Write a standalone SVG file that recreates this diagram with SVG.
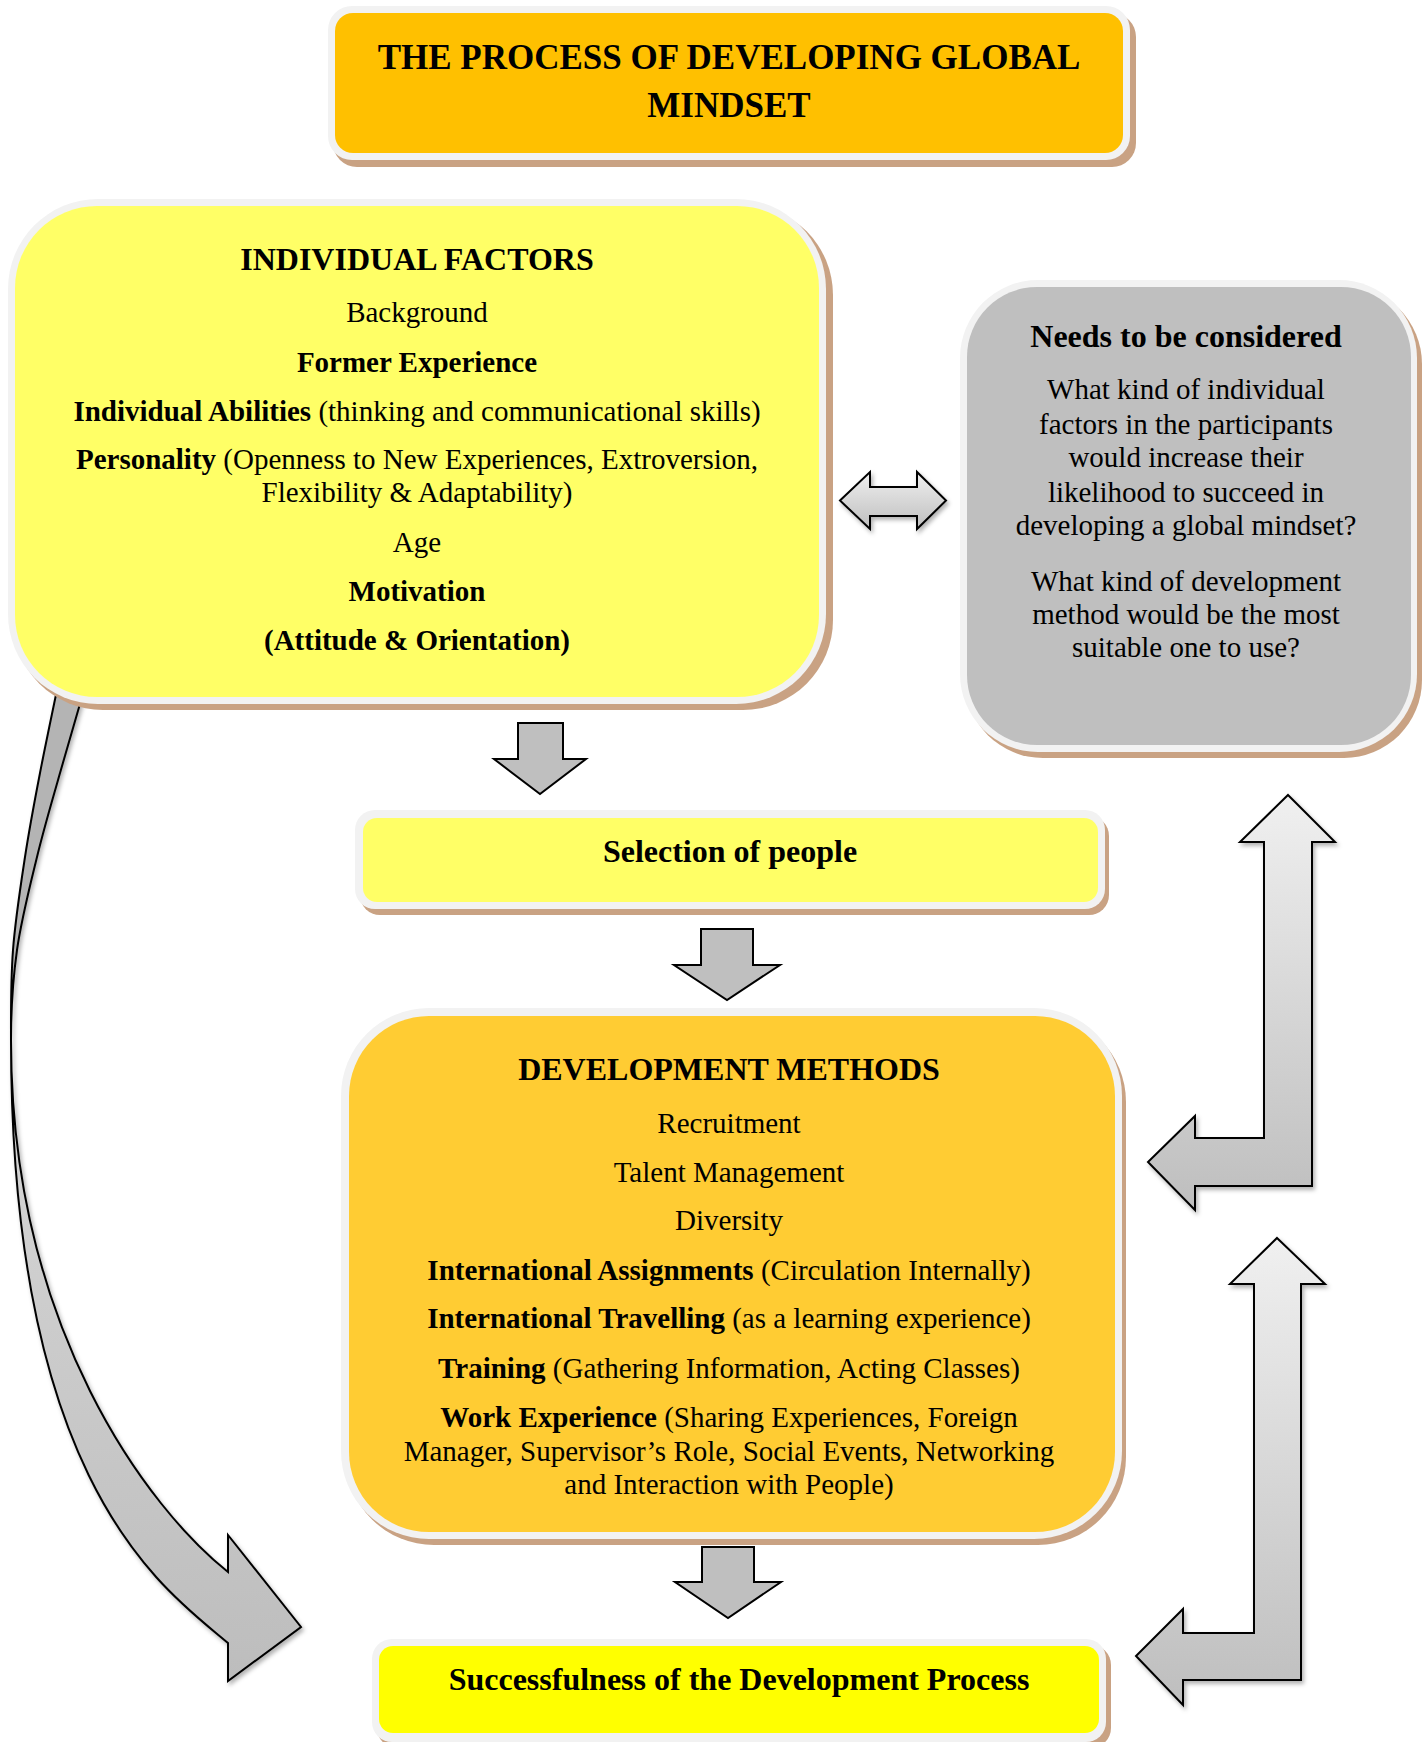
<svg xmlns="http://www.w3.org/2000/svg" width="1422" height="1742" viewBox="0 0 1422 1742">
<style>
.sh{fill:#C9A283}
.bd{fill:#F2F2F2}
.t{font-family:"Liberation Serif","Times New Roman",serif;fill:#000;text-anchor:middle}
.ti{font-size:35px;font-weight:bold}
.h{font-size:32px;font-weight:bold}
.b{font-size:29px}
.bb{font-weight:bold}
.ar{stroke:#000;stroke-width:2;stroke-linejoin:miter}
.flat{fill:#BFBFBF}
.grad{fill:url(#gg)}
</style>
<defs>
<linearGradient id="gg" x1="0" y1="0" x2="0" y2="1">
<stop offset="0" stop-color="#F0F0F0"/>
<stop offset="1" stop-color="#BEBEBE"/>
</linearGradient>
<linearGradient id="cg" x1="0" y1="1040" x2="0" y2="1680" gradientUnits="userSpaceOnUse">
<stop offset="0" stop-color="#D8D8D8"/>
<stop offset="1" stop-color="#BDBDBD"/>
</linearGradient>
<filter id="ds" x="-20%" y="-20%" width="140%" height="140%">
<feDropShadow dx="2" dy="3" stdDeviation="2" flood-color="#000" flood-opacity="0.3"/>
</filter>
</defs>

<g id="connectors">
<g id="curved-arrow" filter="url(#ds)">
<path class="ar" fill="#B4B4B4" d="M 59 680 C 52.7 711 45.7 743.5 40 773 C 34.3 802.5 29.5 827.5 25 857 C 20.5 886.5 15.3 919.5 13 950 C 10.7 980.5 11 1010 11 1040 C 11 1010 12.7 980.5 17 950 C 21.3 919.5 29.8 886.5 37 857 C 44.2 827.5 51.7 802.5 60 773 C 68.3 743.5 78 711 87 680 Z"/>
<path class="ar" fill="url(#cg)" d="M 11 1040 C 11 1490 167 1591 228 1643 L 228 1681 L 301 1627 L 228 1535 L 228 1572 C 150 1510 11 1330 11 1040 Z"/>
</g>
<path id="arrow-down-1" class="ar flat" d="M 518 723 L 563 723 L 563 759 L 586 759 L 540 794 L 494 759 L 518 759 Z"/>
<path id="arrow-down-2" class="ar flat" d="M 701 929 L 753 929 L 753 965 L 780 965 L 727 1000 L 674 965 L 701 965 Z"/>
<path id="arrow-down-3" class="ar flat" d="M 702 1547 L 754 1547 L 754 1582 L 781 1582 L 728 1618 L 675 1582 L 702 1582 Z"/>
<path id="arrow-double" class="ar grad" filter="url(#ds)" d="M 840 500.5 L 870 472 L 870 487 L 917 487 L 917 472 L 946 500.5 L 917 529 L 917 516 L 870 516 L 870 529 Z"/>
<path id="arrow-bent-upper" class="ar grad" filter="url(#ds)" d="M 1288 795 L 1335 842 L 1312 842 L 1312 1186 L 1195 1186 L 1195 1210 L 1148 1162 L 1195 1116 L 1195 1138 L 1264 1138 L 1264 842 L 1240 842 Z"/>
<path id="arrow-bent-lower" class="ar grad" filter="url(#ds)" d="M 1277 1238 L 1325 1284 L 1301 1284 L 1301 1680 L 1183 1680 L 1183 1705 L 1136 1656 L 1183 1609 L 1183 1633 L 1254 1633 L 1254 1284 L 1230 1284 Z"/>
</g>

<g id="title">
<rect class="sh" x="333" y="13" width="803" height="154" rx="24"/>
<rect class="bd" x="328" y="6" width="802" height="154" rx="24"/>
<rect x="335" y="13" width="788" height="140" rx="18" fill="#FFC000"/>
<text class="t ti" x="729" y="69">THE PROCESS OF DEVELOPING GLOBAL</text>
<text class="t ti" x="729" y="117">MINDSET</text>
</g>

<g id="individual-factors">
<rect class="sh" x="13" y="205" width="820" height="505" rx="90"/>
<rect class="bd" x="8" y="199" width="818" height="505" rx="90"/>
<rect x="15" y="206" width="804" height="491" rx="82" fill="#FFFF66"/>
<text class="t h" x="417" y="270">INDIVIDUAL FACTORS</text>
<text class="t b" x="417" y="322">Background</text>
<text class="t b bb" x="417" y="372">Former Experience</text>
<text class="t b" x="417" y="421"><tspan class="bb">Individual Abilities</tspan> (thinking and communicational skills)</text>
<text class="t b" x="417" y="469"><tspan class="bb">Personality</tspan> (Openness to New Experiences, Extroversion,</text>
<text class="t b" x="417" y="502">Flexibility &amp; Adaptability)</text>
<text class="t b" x="417" y="552">Age</text>
<text class="t b bb" x="417" y="601">Motivation</text>
<text class="t b bb" x="417" y="650">(Attitude &amp; Orientation)</text>
</g>

<g id="needs-considered">
<rect class="sh" x="965" y="286" width="457" height="472" rx="78"/>
<rect class="bd" x="960" y="280" width="457" height="472" rx="78"/>
<rect x="967" y="287" width="444" height="458" rx="70" fill="#BFBFBF"/>
<text class="t h" x="1186" y="347">Needs to be considered</text>
<text class="t b" x="1186" y="399">What kind of individual</text>
<text class="t b" x="1186" y="434">factors in the participants</text>
<text class="t b" x="1186" y="467">would increase their</text>
<text class="t b" x="1186" y="502">likelihood to succeed in</text>
<text class="t b" x="1186" y="535">developing a global mindset?</text>
<text class="t b" x="1186" y="591">What kind of development</text>
<text class="t b" x="1186" y="624">method would be the most</text>
<text class="t b" x="1186" y="657">suitable one to use?</text>
</g>

<g id="selection">
<rect class="sh" x="360" y="816" width="749" height="99" rx="20"/>
<rect class="bd" x="355" y="810" width="750" height="99" rx="20"/>
<rect x="363" y="818" width="735" height="84" rx="14" fill="#FFFF66"/>
<text class="t h" x="730" y="862">Selection of people</text>
</g>

<g id="development-methods">
<rect class="sh" x="346" y="1014" width="780" height="531" rx="88"/>
<rect class="bd" x="341" y="1008" width="781" height="531" rx="88"/>
<rect x="349" y="1016" width="766" height="516" rx="80" fill="#FFCC33"/>
<text class="t h" x="729" y="1080">DEVELOPMENT METHODS</text>
<text class="t b" x="729" y="1133">Recruitment</text>
<text class="t b" x="729" y="1182">Talent Management</text>
<text class="t b" x="729" y="1230">Diversity</text>
<text class="t b" x="729" y="1280"><tspan class="bb">International Assignments</tspan> (Circulation Internally)</text>
<text class="t b" x="729" y="1328"><tspan class="bb">International Travelling</tspan> (as a learning experience)</text>
<text class="t b" x="729" y="1378"><tspan class="bb">Training</tspan> (Gathering Information, Acting Classes)</text>
<text class="t b" x="729" y="1427"><tspan class="bb">Work Experience</tspan> (Sharing Experiences, Foreign</text>
<text class="t b" x="729" y="1461">Manager, Supervisor’s Role, Social Events, Networking</text>
<text class="t b" x="729" y="1494">and Interaction with People)</text>
</g>

<g id="successfulness">
<rect class="sh" x="377" y="1645" width="734" height="103" rx="20"/>
<rect class="bd" x="372" y="1639" width="734" height="103" rx="20"/>
<rect x="379" y="1646" width="720" height="87" rx="14" fill="#FFFF00"/>
<text class="t h" x="739" y="1690">Successfulness of the Development Process</text>
</g>
</svg>
